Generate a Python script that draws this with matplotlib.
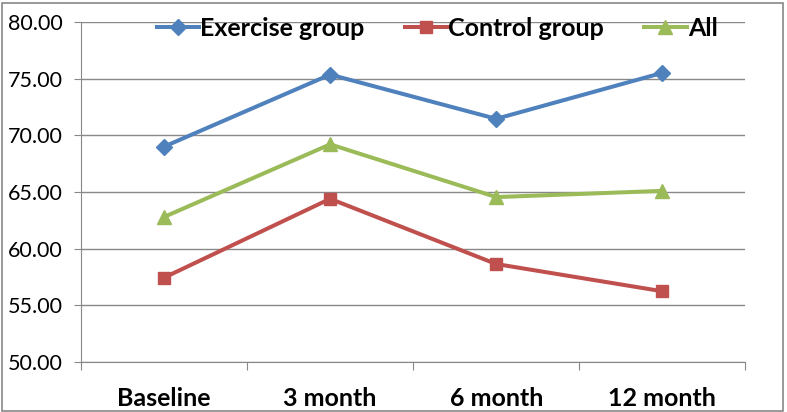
import matplotlib
matplotlib.use("Agg")
import matplotlib.pyplot as plt
from matplotlib.patches import Rectangle

categories = ["Baseline", "3 month", "6 month", "12 month"]
exercise = [69.0, 75.35, 71.45, 75.5]
control = [57.45, 64.4, 58.65, 56.25]
all_grp = [62.8, 69.2, 64.55, 65.1]

plt.rcParams['font.family'] = ['Lato', 'DejaVu Sans']

fig = plt.figure(figsize=(7.87, 4.12), dpi=100)
ax = fig.add_axes([0.103, 0.121, 0.844, 0.826])

xs = [i + 0.5 for i in range(len(categories))]
ax.plot(xs, exercise, color='#4F81BD', lw=2.9, marker='D', ms=8, label='Exercise group', zorder=3)
ax.plot(xs, control, color='#C0504D', lw=2.9, marker='s', ms=9, label='Control group', zorder=3)
ax.plot(xs, all_grp, color='#9BBB59', lw=2.9, marker='^', ms=10, label='All', zorder=3)

ax.set_xlim(0, 4)
ax.set_ylim(50, 80)
ax.set_yticks([50, 55, 60, 65, 70, 75, 80])
ax.set_yticklabels([f"{v:.2f}" for v in [50, 55, 60, 65, 70, 75, 80]], fontsize=15.5)
ax.set_xticks([0, 1, 2, 3, 4])
ax.set_xticklabels([])
ax.set_xticks(xs, minor=True)
ax.set_xticklabels(categories, minor=True, fontsize=18, fontweight='bold')
ax.tick_params(axis='x', which='minor', length=0, pad=18)
ax.tick_params(axis='x', which='major', length=6, color='#888888')
ax.tick_params(axis='y', length=5, color='#888888', pad=8)
ax.grid(axis='y', color='#888888', lw=1)
ax.set_axisbelow(True)
for s in ['top', 'right']:
    ax.spines[s].set_visible(False)
for s in ['left', 'bottom']:
    ax.spines[s].set_color('#888888')

leg = ax.legend(loc='center', bbox_to_anchor=(0.536, 0.98), ncol=3, frameon=False,
                prop={'weight': 'bold', 'size': 18}, handlelength=1.7,
                handletextpad=0.05, columnspacing=1.6, borderaxespad=0)

fig.patches.append(Rectangle((0.002, 0.003), 0.993, 0.99, transform=fig.transFigure,
                             fill=False, edgecolor='#888888', lw=1.2))

fig.savefig('out.png', dpi=100)
